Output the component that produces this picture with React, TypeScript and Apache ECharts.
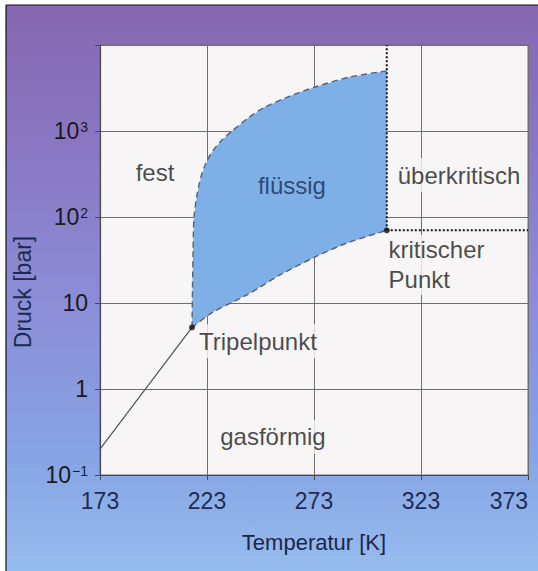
import React, { useEffect, useRef } from "react";
import * as echarts from "echarts";

// Temperature axis (K)
const xTicks = [173, 223, 273, 323, 373];
// Pressure axis (bar), decades and their labels
const yTickExponents = [-1, 0, 1, 2, 3, 4];
const yTickLabels = ["10{sup|−1}", "1", "10", "10{sup|2}", "10{sup|3}", ""];

// Melting curve: solid / liquid boundary
const meltingT = [216, 216.2, 216.5, 216.9, 218.3, 220.7, 224.4, 229.1, 234.7, 242.2, 250.1, 261.8, 273.5, 289.8, 307];
const meltingP = [5.2, 14, 41, 97, 180, 325, 525, 745, 1000, 1415, 1900, 2550, 3250, 4250, 5000];

// Vapour pressure curve: liquid / gas boundary
const vaporT = [216, 225.8, 241.7, 257.1, 273.5, 288.4, 307];
const vaporP = [5.2, 7.85, 12.4, 21.2, 34.3, 49.9, 70];

// Sublimation curve: solid / gas boundary
const sublimationT = [173, 216];
const sublimationP = [0.2, 5.2];

// Triple point and critical point
const tripleT = 216;
const tripleP = 5.2;
const criticalT = 307;
const criticalP = 70;

// Region names and where they sit
const regionNames = ["fest", "flüssig", "überkritisch", "kritischer\nPunkt", "Tripelpunkt", "gasförmig"];
const regionT = [198.7, 262.7, 340.8, 307.6, 246.8, 253.8];
const regionP = [325, 235, 307, 27.7, 3.6, 0.277];

const FONT = "'Liberation Sans', Arial, Helvetica, sans-serif";
const PLOT_BG = "#f8f5f6";

const zip = (xs: number[], ys: number[]) => xs.map((x, i) => [x, ys[i]]);

export default function App() {
  const ref = useRef<HTMLDivElement>(null);

  useEffect(() => {
    if (!ref.current) return;
    const chart = echarts.init(ref.current, undefined, { renderer: "svg" });

    const melting = zip(meltingT, meltingP);
    const vapor = zip(vaporT, vaporP);
    const liquidOutline = [...melting, ...vapor.slice().reverse()];

    const regionData = regionNames.map((name, i) => {
      const item: any = { name, value: [regionT[i], regionP[i]] };
      if (name === "flüssig") {
        item.label = { color: "#1b2d55", backgroundColor: "transparent" };
      } else if (name.startsWith("kritischer")) {
        item.label = {
          position: "right",
          distance: 0,
          align: "left",
          lineHeight: 30,
          padding: [0, 4, 0, 0],
        };
      }
      return item;
    });

    const option: any = {
      animation: false,
      backgroundColor: new echarts.graphic.LinearGradient(0, 0, 0, 1, [
        { offset: 0, color: "#8666b0" },
        { offset: 0.3, color: "#8a7ac6" },
        { offset: 0.55, color: "#8c8fd8" },
        { offset: 0.8, color: "#86a4e4" },
        { offset: 1, color: "#96bcee" },
      ]),
      textStyle: { fontFamily: FONT },
      graphic: {
        elements: [
          { type: "rect", silent: true, shape: { x: 0, y: 0, width: 538, height: 5 }, style: { fill: "#ffffff" } },
          { type: "rect", silent: true, shape: { x: 0, y: 0, width: 6, height: 571 }, style: { fill: "#ffffff" } },
          { type: "line", silent: true, shape: { x1: 6, y1: 5, x2: 538, y2: 5 }, style: { stroke: "#111", lineWidth: 1.2 } },
          { type: "line", silent: true, shape: { x1: 6, y1: 5, x2: 6, y2: 571 }, style: { stroke: "#111", lineWidth: 1.2 } },
        ],
      },
      grid: {
        left: 100,
        top: 45,
        right: 10,
        bottom: 96,
        outerBoundsMode: "none",
        containLabel: false,
        show: true,
        backgroundColor: PLOT_BG,
        borderColor: "#707070",
        borderWidth: 1,
      },
      xAxis: {
        type: "value",
        min: xTicks[0],
        max: xTicks[xTicks.length - 1],
        interval: xTicks[1] - xTicks[0],
        name: "Temperatur [K]",
        nameLocation: "middle",
        nameGap: 56,
        nameTextStyle: { fontSize: 22, color: "#1c2648", fontFamily: FONT },
        axisLine: { lineStyle: { color: "#4a4a4a", width: 1.2 } },
        axisTick: { show: true, length: 5, lineStyle: { color: "#4a4a4a" } },
        axisLabel: {
          fontSize: 23,
          color: "#1f2b52",
          margin: 14,
          fontFamily: FONT,
          alignMaxLabel: "right",
          formatter: (v: number) => {
            const i = xTicks.findIndex((t) => Math.abs(t - v) < 1e-6);
            return i >= 0 ? String(xTicks[i]) : "";
          },
        },
        splitLine: { show: true, lineStyle: { color: "#6e6e6e", width: 1 } },
      },
      yAxis: {
        type: "log",
        logBase: 10,
        min: 0.1,
        max: 10000,
        name: "Druck [bar]",
        nameLocation: "middle",
        nameRotate: 90,
        nameGap: 57,
        nameTextStyle: { fontSize: 23, color: "#1c2a50", fontFamily: FONT, padding: [0, 64, 0, 0] },
        axisLine: { show: true, lineStyle: { color: "#4a4a4a", width: 1.2 } },
        axisTick: { show: true, length: 5, lineStyle: { color: "#4a4a4a" } },
        axisLabel: {
          fontSize: 23,
          color: "#1a1a1a",
          margin: 12,
          fontFamily: FONT,
          formatter: (v: number) => {
            const e = Math.round(Math.log10(v));
            const i = yTickExponents.indexOf(e);
            return i >= 0 ? yTickLabels[i] : "";
          },
          rich: {
            sup: { fontSize: 14, verticalAlign: "top", color: "#1a1a1a", fontFamily: FONT, padding: [0, 0, 0, 1] },
          },
        },
        splitLine: { show: true, lineStyle: { color: "#6e6e6e", width: 1 } },
      },
      series: [
        {
          name: "flüssig-Bereich",
          type: "custom",
          z: 2,
          silent: true,
          data: [[tripleT, tripleP]],
          renderItem: (params: any, api: any) => {
            if (params.dataIndex !== 0) return null;
            const points = liquidOutline.map((p) => api.coord(p));
            return {
              type: "polygon",
              shape: { points },
              style: { fill: "#7eafe7", stroke: "none" },
            };
          },
        },
        {
          name: "Schmelzkurve",
          type: "line",
          z: 3,
          data: melting,
          smooth: 0.25,
          symbol: "none",
          lineStyle: { color: "#56607a", width: 1.4, type: [6, 4] },
        },
        {
          name: "Dampfdruckkurve",
          type: "line",
          z: 3,
          data: vapor,
          smooth: 0.25,
          symbol: "none",
          lineStyle: { color: "#56607a", width: 1.4, type: [6, 4] },
        },
        {
          name: "Sublimationskurve",
          type: "line",
          z: 3,
          data: zip(sublimationT, sublimationP),
          symbol: "none",
          lineStyle: { color: "#4a4a4a", width: 1.1 },
        },
        {
          name: "Grenze T",
          type: "line",
          z: 4,
          data: [
            [criticalT, criticalP],
            [criticalT, 10000],
          ],
          symbol: "none",
          lineStyle: { color: "#151515", width: 2, type: [2, 2] },
        },
        {
          name: "Grenze p",
          type: "line",
          z: 4,
          data: [
            [criticalT, criticalP],
            [xTicks[xTicks.length - 1], criticalP],
          ],
          symbol: "none",
          lineStyle: { color: "#151515", width: 2, type: [2, 2] },
        },
        {
          name: "Punkte",
          type: "scatter",
          z: 5,
          data: [
            [tripleT, tripleP],
            [criticalT, criticalP],
          ],
          symbolSize: 6,
          itemStyle: { color: "#111" },
        },
        {
          name: "Bereiche",
          type: "scatter",
          z: 6,
          silent: true,
          data: regionData,
          symbolSize: 1,
          itemStyle: { color: "rgba(0,0,0,0)" },
          label: {
            show: true,
            position: "inside",
            formatter: "{b}",
            fontSize: 24,
            fontFamily: FONT,
            color: "#1c1c1c",
            backgroundColor: PLOT_BG,
            lineHeight: 26,
            padding: [4, 3],
          },
        },
      ],
    };

    chart.setOption(option);
    return () => chart.dispose();
  }, []);

  return (
    <div
      ref={ref}
      style={{ position: "absolute", left: 0, top: 0, width: 538, height: 571 }}
    />
  );
}
